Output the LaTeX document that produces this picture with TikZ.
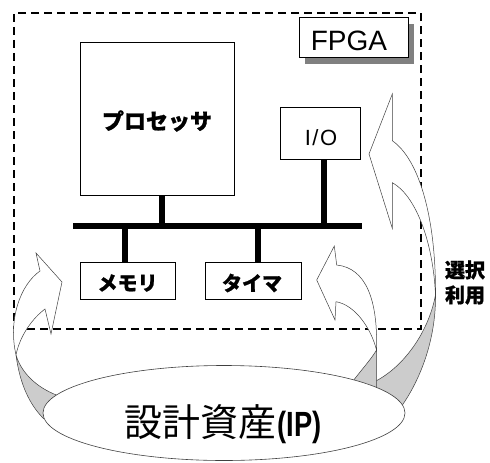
\documentclass[tikz,border=0pt]{standalone}
\usepackage{graphicx}
\usepackage{fontspec}
\newfontfamily\jp{Noto Sans CJK JP}
\newfontfamily\jpheavy{Noto Sans CJK JP}[BoldFeatures={FakeBold=0.8}]
\newfontfamily\lsans{Liberation Sans}
\usetikzlibrary{shapes.geometric}
\begin{document}
\begin{tikzpicture}[x=1pt,y=-1pt,
  box/.style={draw=black, line width=0.9pt, fill=white, inner sep=0pt},
  busline/.style={line width=6pt},
  stub/.style={line width=5.5pt},
  body/.style={draw=black!75, line width=0.5pt, fill=white},
  twist/.style={draw=black!75, line width=0.5pt, fill=black!20},
  jpb/.style={font=\jpheavy\bfseries\fontsize{#1}{#1}\selectfont},
]
\useasboundingbox (0,0) rectangle (490,463);

% FPGA region
\node[draw, line width=2.2pt, dash pattern=on 8pt off 5pt, minimum width=407pt, minimum height=316pt, inner sep=0pt] (fpga) at (217.5,171) {};

% FPGA label with shadow
\node[fill=black!50, minimum width=109pt, minimum height=40pt, inner sep=0pt] (fpgashadow) at (359.5,44) {};
\node[box, minimum width=109pt, minimum height=40pt] (fpgalabel) at (353.5,37) {};
\node[font=\lsans\fontsize{28}{30}\selectfont] (fpgatext) at (349,41) {FPGA};

% blocks
\node[box, minimum width=154pt, minimum height=153pt] (proc) at (157,118.5) {};
\node[jpb=22] (proctext) at (157,121) {プロセッサ};
\node[box, minimum width=80pt, minimum height=52pt] (io) at (320,133) {};
\node[font=\lsans\fontsize{22}{24}\selectfont, anchor=base] (iotext) at (321,145) {I\kern1.5pt/\kern1.5pt O};
\node[box, minimum width=95pt, minimum height=37pt] (mem) at (127.5,280.5) {};
\node[jpb=20] (memtext) at (127.5,283) {メモリ};
\node[box, minimum width=96pt, minimum height=37pt] (timer) at (253,280.5) {};
\node[jpb=20] (timertext) at (252,283) {タイマ};

% bus
\coordinate (busL) at (73,226);
\coordinate (busR) at (362,226);
\draw[busline] (busL) -- (busR);
\draw[stub] ([xshift=5pt]proc.south) -- ([xshift=5pt]proc.south |- busL);
\draw[stub] ([xshift=4pt]io.south) -- ([xshift=4pt]io.south |- busL);
\draw[stub] ([xshift=-2.5pt]mem.north) -- ([xshift=-2.5pt]mem.north |- busL);
\draw[stub] ([xshift=5pt]timer.north) -- ([xshift=5pt]timer.north |- busL);

% far right curved arrow (to I/O)
\draw[twist] (435.5,295) .. controls (436,340) and (420,380) .. (401.7,406) -- (395,410) -- (368.3,384.5)
  .. controls (400,372) and (428,335) .. (435.5,295) -- cycle;
\draw[body] (392.3,140.7) -- (392.3,94) -- (369,154) -- (392.3,228.3) -- (392.3,182.7)
  .. controls (415,195) and (433,240) .. (435.5,295)
  .. controls (436,220) and (420,160) .. (392.3,140.7) -- cycle;

% middle curved arrow (to timer)
\draw[twist] (376.5,350) -- (376.5,395) -- (352,395) -- (353,381)
  .. controls (363,368) and (372,358) .. (376.5,350) -- cycle;
\draw[body] (336.7,265) -- (334.3,246) -- (316.7,280) -- (335,320) -- (336,301.7)
  .. controls (355,305) and (371,328) .. (376.5,350)
  .. controls (378,300) and (366,268) .. (336.7,265) -- cycle;

% left curved arrow (to memory)
\draw[twist] (16,355) .. controls (22,375) and (40,390) .. (62,397) -- (60,420) -- (43.5,418.5)
  .. controls (30,405) and (20,385) .. (16,355) -- cycle;
\draw[body] (40,271) -- (36,253) -- (62,282) -- (51,334) -- (45,309)
  .. controls (33,318) and (20,335) .. (16,355)
  .. controls (8,320) and (20,285) .. (40,271) -- cycle;

% IP library
\node[ellipse, draw=black!75, line width=0.6pt, fill=white, minimum width=362pt, minimum height=95pt, inner sep=0pt] (ip) at (224,413) {};
\node[font=\jp\fontsize{38}{40}\selectfont] (iptext) at (223,424) {設計資産\kern1pt\scalebox{0.78}[1]{\lsans\bfseries\fontsize{35}{36}\selectfont(IP)}};

% label
\node[align=center, font=\jpheavy\bfseries\fontsize{20}{25}\selectfont] (sentaku) at (465,282.5) {選択\\利用};
\end{tikzpicture}
\end{document}
